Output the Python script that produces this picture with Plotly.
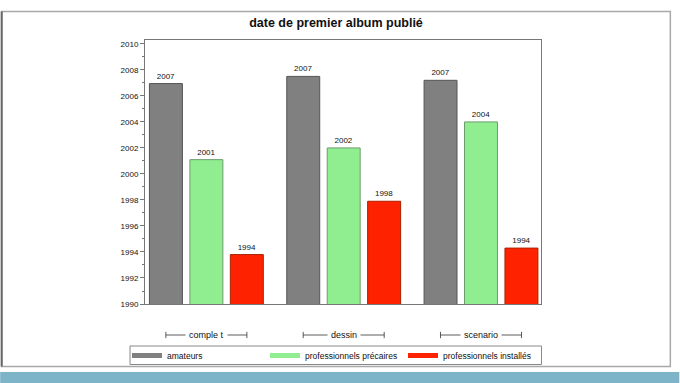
import plotly.graph_objects as go

# ---- data ----
categories = ["comple t", "dessin", "scenario"]
series_names = ["amateurs", "professionnels précaires", "professionnels installés"]
amateurs = [2006.95, 2007.5, 2007.2]
precaires = [2001.1, 2002.0, 2004.0]
installes = [1993.8, 1997.9, 1994.3]
amateurs_labels = ["2007", "2007", "2007"]
precaires_labels = ["2001", "2002", "2004"]
installes_labels = ["1994", "1998", "1994"]
y_ticks = list(range(1990, 2011, 2))

FONT = "Liberation Sans, Arial, sans-serif"

fig = go.Figure()
styles = [
    ("#808080", "#555555"),
    ("#90ee90", "#6c9c6c"),
    ("#ff2200", "#a82000"),
]
for name, vals, labels, (fc, lc) in zip(
    series_names,
    [amateurs, precaires, installes],
    [amateurs_labels, precaires_labels, installes_labels],
    styles,
):
    fig.add_trace(go.Bar(
        x=categories, y=vals, name=name, legendgroup=name, showlegend=False,
        marker=dict(color=fc, line=dict(color=lc, width=1)),
        text=labels, textposition="outside",
        textfont=dict(family=FONT, size=8, color="#111"),
        cliponaxis=False,
    ))
# legend entries drawn as wide flat swatches
for name, (fc, lc) in zip(series_names, styles):
    fig.add_trace(go.Scatter(
        x=[None], y=[None], mode="lines", name=name, legendgroup=name,
        line=dict(color=fc, width=5), showlegend=True,
    ))

# plot area: x 145..541.5, y 40..304
def px_x(px):
    return (px - 145) / 396.5

def px_y(py):
    return (304 - py) / 264

shapes = []
# group brackets under axis
for i, c in enumerate(categories):
    yb = px_y(335)
    shapes.append(dict(type="line", xref="x", yref="paper", x0=i - 0.295, x1=i + 0.295,
                       y0=yb, y1=yb, line=dict(color="#333", width=0.8)))
    for xe in (i - 0.295, i + 0.295):
        shapes.append(dict(type="line", xref="x", yref="paper", x0=xe, x1=xe,
                           y0=yb - 0.012, y1=yb + 0.012, line=dict(color="#333", width=0.8)))

# outer slide frame
shapes.append(dict(type="rect", xref="paper", yref="paper",
                   x0=px_x(1.5), x1=px_x(671), y0=px_y(366.5), y1=px_y(11.5),
                   line=dict(color="#a8a8a8", width=1.5), layer="below"))
shapes.append(dict(type="line", xref="paper", yref="paper",
                   x0=px_x(1.5), x1=px_x(1.5), y0=px_y(366.5), y1=px_y(11.5),
                   line=dict(color="#666666", width=2)))
# legend box
shapes.append(dict(type="rect", xref="paper", yref="paper",
                   x0=px_x(130), x1=px_x(542), y0=px_y(364.5), y1=px_y(346),
                   line=dict(color="#888888", width=1), layer="below"))
# blue strip at bottom
shapes.append(dict(type="rect", xref="paper", yref="paper",
                   x0=px_x(0), x1=px_x(680), y0=px_y(383), y1=px_y(372),
                   line=dict(width=0), fillcolor="#7db4c8", layer="below"))

annotations = []
for i, c in enumerate(categories):
    annotations.append(dict(x=i, xref="x", y=px_y(335), yref="paper", text=c,
                            xanchor="center", yanchor="middle",
                            showarrow=False, bgcolor="white", borderpad=3,
                            font=dict(family=FONT, size=9, color="#111")))

fig.update_layout(
    width=680, height=383,
    margin=dict(l=145, r=138.5, t=40, b=79, autoexpand=False),
    paper_bgcolor="white", plot_bgcolor="white",
    barmode="group", bargap=0.1164, bargroupgap=0.185,
    title=dict(text="<b>date de premier album publié</b>", x=336 / 680, xanchor="center",
               y=1 - 23 / 383, yanchor="middle",
               font=dict(family=FONT, size=12.5, color="#111")),
    showlegend=True,
    legend=dict(orientation="h", x=px_x(127), xanchor="left", y=px_y(341), yanchor="top",
                borderwidth=0, bgcolor="rgba(0,0,0,0)",
                font=dict(family=FONT, size=8.5, color="#111"),
                entrywidth=93, entrywidthmode="pixels", itemwidth=30,
                tracegroupgap=0, traceorder="normal"),
    shapes=shapes,
    annotations=annotations,
)
fig.update_xaxes(range=[-0.447, 2.437], showticklabels=False, ticks="",
                 showline=True, linecolor="#777", linewidth=1, mirror=True,
                 showgrid=False, zeroline=False)
fig.update_yaxes(range=[1990, 2010.3], tickvals=y_ticks, ticks="outside", ticklen=4,
                 tickcolor="#777", tickfont=dict(family=FONT, size=8, color="#111"),
                 showline=True, linecolor="#777", linewidth=1, mirror=True,
                 showgrid=False, zeroline=False,
                 minor=dict(dtick=1, ticks="outside", ticklen=2, tickcolor="#777", showgrid=False))

fig.write_html("out.html", config={"displayModeBar": False},
               post_script="document.body.style.margin='0px';")
